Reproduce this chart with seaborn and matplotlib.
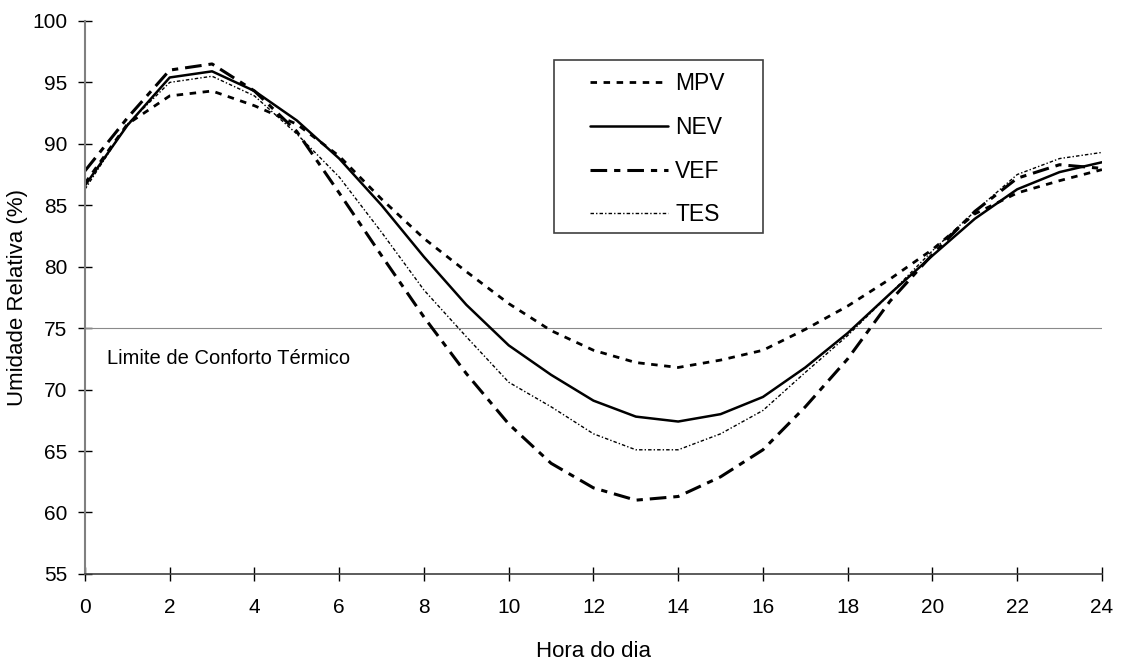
import matplotlib
matplotlib.use("Agg")
import matplotlib.pyplot as plt
from matplotlib.patches import Rectangle
import numpy as np
import pandas as pd
import seaborn as sns

# hourly relative humidity (%)
hours = list(range(25))
mpv = [86.8, 91.6, 93.9, 94.3, 93.1, 91.6, 89.0, 85.5, 82.3, 79.6, 77.0, 74.8, 73.2,
       72.2, 71.8, 72.4, 73.2, 74.9, 76.8, 79.0, 81.4, 84.3, 86.0, 87.0, 87.9]
nev = [86.6, 91.5, 95.4, 95.9, 94.3, 91.9, 88.8, 85.0, 80.8, 76.9, 73.6, 71.2, 69.1,
       67.8, 67.4, 68.0, 69.4, 71.8, 74.6, 77.8, 80.9, 83.9, 86.3, 87.7, 88.5]
vef = [87.8, 92.1, 96.0, 96.5, 94.3, 91.0, 86.0, 80.9, 75.9, 71.3, 67.2, 64.0, 62.0,
       61.0, 61.3, 62.9, 65.1, 68.6, 72.5, 77.2, 81.0, 84.5, 87.2, 88.3, 88.0]
tes = [86.3, 91.6, 95.0, 95.5, 93.9, 90.8, 87.3, 82.8, 78.1, 74.3, 70.6, 68.6, 66.4,
       65.1, 65.1, 66.4, 68.3, 71.4, 74.4, 77.8, 81.3, 84.5, 87.5, 88.8, 89.3]

limite = 75
limite_label = "Limite de Conforto Térmico"
x_ticks = list(range(0, 25, 2))
y_ticks = list(range(55, 101, 5))

series = {"MPV": mpv, "NEV": nev, "VEF": vef, "TES": tes}
line_styles = {
    "MPV": dict(linestyle=(0, (4.7, 4.7)), linewidth=2.0),
    "NEV": dict(linestyle="-", linewidth=1.8),
    "VEF": dict(linestyle=(0, (12, 5, 4.5, 5)), linewidth=2.2),
    "TES": dict(linestyle=(0, (2.5, 1.5, 1, 1.5)), linewidth=1.0),
}

sns.set_style("white")
plt.rcParams["font.family"] = ["Liberation Sans", "DejaVu Sans"]
plt.rcParams["lines.scale_dashes"] = False
plt.rcParams["text.color"] = "black"
plt.rcParams["axes.labelcolor"] = "black"
plt.rcParams["xtick.color"] = "black"
plt.rcParams["ytick.color"] = "black"

fig = plt.figure(figsize=(11.21, 6.65), dpi=100)
ax = fig.add_axes([0.0758, 0.137, 0.9072, 0.8315])

df = pd.DataFrame({"hora": hours, **series})
for name in series:
    sns.lineplot(data=df, x="hora", y=name, ax=ax, color="black", label=name,
                 legend=False, **line_styles[name])

ax.axhline(limite, color="#8a8a8a", linewidth=0.8, zorder=1)
ax.text(0.52, 72.05, limite_label, fontsize=14.5, va="baseline", ha="left")

ax.set_xlim(0, 24)
ax.set_ylim(55, 100)
ax.set_xticks(x_ticks)
ax.set_yticks(y_ticks)
ax.tick_params(axis="x", bottom=True, direction="inout", length=10, width=1,
               pad=12.5, labelsize=15, color="black", labelcolor="black")
ax.tick_params(axis="y", left=True, direction="inout", length=9.4, width=1,
               pad=8, labelsize=15, color="black", labelcolor="black")
ax.set_xlabel("Hora do dia", fontsize=16, labelpad=17)
ax.set_ylabel("Umidade Relativa (%)", fontsize=16, labelpad=3)

for side in ("top", "right"):
    ax.spines[side].set_visible(False)
ax.spines["left"].set_color("#808080")
ax.spines["left"].set_linewidth(1.5)
ax.spines["bottom"].set_color("#404040")
ax.spines["bottom"].set_linewidth(1.2)

handles, labels = ax.get_legend_handles_labels()
ax.legend(handles, labels, loc="center", bbox_to_anchor=(0.563, 0.768),
          frameon=False, fontsize=16.5, handlelength=3.4, handletextpad=0.3,
          labelspacing=0.9, borderpad=0, borderaxespad=0)
ax.add_patch(Rectangle((0.461, 0.617), 0.206, 0.312, transform=ax.transAxes,
                       fill=False, edgecolor="#404040", linewidth=1.2, zorder=5))

fig.savefig("out.png", dpi=100)
